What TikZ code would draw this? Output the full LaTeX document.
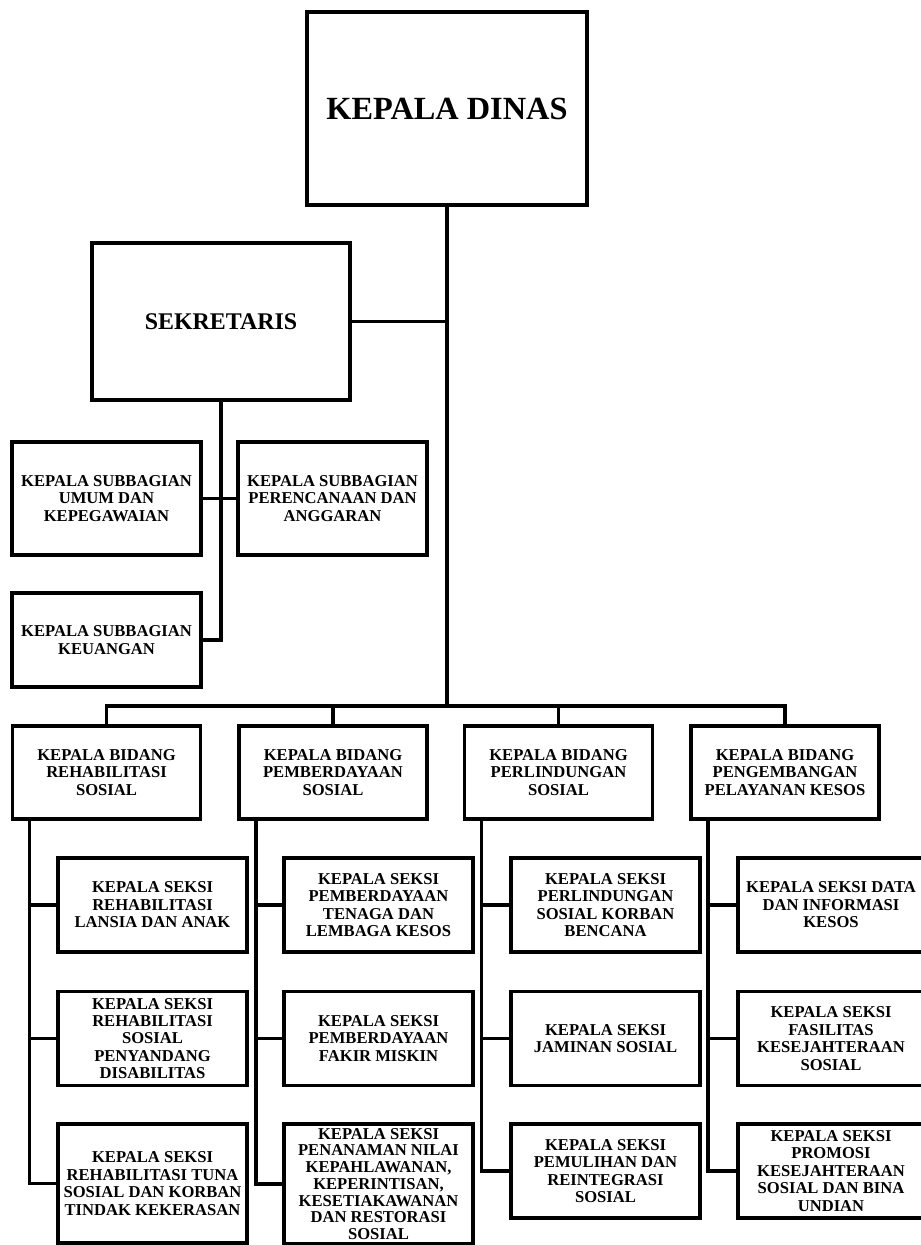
\documentclass[tikz,border=0pt]{standalone}
\usepackage{fontspec}
\setmainfont{Liberation Serif}
\usepackage{tikz}

\begin{document}
\begin{tikzpicture}[x=0.025cm,y=-0.025cm,line width=2.6pt,line join=miter]
  \tikzstyle{unit}=[rectangle,draw=black,fill=white,align=center,inner sep=0pt,
                    font=\fontsize{11.8}{12.4}\selectfont\bfseries]
  \tikzstyle{kasubag}=[unit,minimum width=4.725cm,minimum height=2.825cm]
  \tikzstyle{kabid}=[unit,minimum width=4.7cm,minimum height=2.325cm]
  \tikzstyle{kasi}=[unit,minimum width=4.725cm,minimum height=2.35cm]

  \useasboundingbox (0,0) rectangle (921,1245);

  \node[unit,minimum width=7cm,minimum height=4.825cm,
        font=\fontsize{23}{27}\selectfont\bfseries] (kadis) at (447,108.5) {KEPALA DINAS};
  \node[unit,minimum width=6.45cm,minimum height=3.925cm,
        font=\fontsize{17}{20}\selectfont\bfseries] (sekre) at (221,321.5) {SEKRETARIS};

  \node[kasubag] (umum) at (106.5,498.5) {KEPALA SUBBAGIAN\\UMUM DAN\\KEPEGAWAIAN};
  \node[kasubag] (renc) at (332.5,498.5) {KEPALA SUBBAGIAN\\PERENCANAAN DAN\\ANGGARAN};
  \node[kasi]    (keu)  at (106.5,640)   {KEPALA SUBBAGIAN\\KEUANGAN};

  \node[kabid] (b1) at (106.5,772.5) {KEPALA BIDANG\\REHABILITASI\\SOSIAL};
  \node[kabid] (b2) at (333,772.5)   {KEPALA BIDANG\\PEMBERDAYAAN\\SOSIAL};
  \node[kabid] (b3) at (558.5,772.5) {KEPALA BIDANG\\PERLINDUNGAN\\SOSIAL};
  \node[kabid] (b4) at (785,772.5)   {KEPALA BIDANG\\PENGEMBANGAN\\PELAYANAN KESOS};

  % seksi per bidang
  \node[kasi] (s11) at (152.5,905)    {KEPALA SEKSI\\REHABILITASI\\LANSIA DAN ANAK};
  \node[kasi] (s12) at (152.5,1038.5) {KEPALA SEKSI\\REHABILITASI\\SOSIAL\\PENYANDANG\\DISABILITAS};
  \node[kasi,minimum height=2.975cm] (s13) at (152.5,1183.5)
        {KEPALA SEKSI\\REHABILITASI TUNA\\SOSIAL DAN KORBAN\\TINDAK KEKERASAN};

  \node[kasi] (s21) at (378.5,905)    {KEPALA SEKSI\\PEMBERDAYAAN\\TENAGA DAN\\LEMBAGA KESOS};
  \node[kasi] (s22) at (378.5,1038.5) {KEPALA SEKSI\\PEMBERDAYAAN\\FAKIR MISKIN};
  \node[kasi,minimum height=3cm,font=\fontsize{11.8}{11.9}\selectfont\bfseries] (s23) at (378.5,1184)
        {KEPALA SEKSI\\PENANAMAN NILAI\\KEPAHLAWANAN,\\KEPERINTISAN,\\KESETIAKAWANAN\\DAN RESTORASI\\SOSIAL};

  \node[kasi] (s31) at (605.5,905)    {KEPALA SEKSI\\PERLINDUNGAN\\SOSIAL KORBAN\\BENCANA};
  \node[kasi] (s32) at (605.5,1038.5) {KEPALA SEKSI\\JAMINAN SOSIAL};
  \node[kasi] (s33) at (605.5,1171)   {KEPALA SEKSI\\PEMULIHAN DAN\\REINTEGRASI\\SOSIAL};

  \node[kasi,minimum width=4.65cm] (s41) at (831,905)    {KEPALA SEKSI DATA\\DAN INFORMASI\\KESOS};
  \node[kasi,minimum width=4.65cm] (s42) at (831,1038.5) {KEPALA SEKSI\\FASILITAS\\KESEJAHTERAAN\\SOSIAL};
  \node[kasi,minimum width=4.65cm] (s43) at (831,1171)   {KEPALA SEKSI\\PROMOSI\\KESEJAHTERAAN\\SOSIAL DAN BINA\\UNDIAN};

  % garis komando
  \coordinate (bus) at (447,706);
  \draw (kadis.south) -- (bus);
  \draw (sekre.east) -- (sekre.east -| kadis.south);
  \draw (sekre.south) |- (keu.east);
  \draw (umum.east) -- (renc.west);
  \draw (b1.north) |- (bus) -| (b4.north);
  \draw (b2.north) -- (b2.north |- bus);
  \draw (b3.north) -- (b3.north |- bus);

  \foreach \b/\s in {b1/s1,b2/s2,b3/s3,b4/s4} {
    \draw (\b.south west) ++(19,0) coordinate (t\b) |- (\s3.west);
    \draw (t\b |- \s1.west) -- (\s1.west);
    \draw (t\b |- \s2.west) -- (\s2.west);
  }
\end{tikzpicture}
\end{document}
